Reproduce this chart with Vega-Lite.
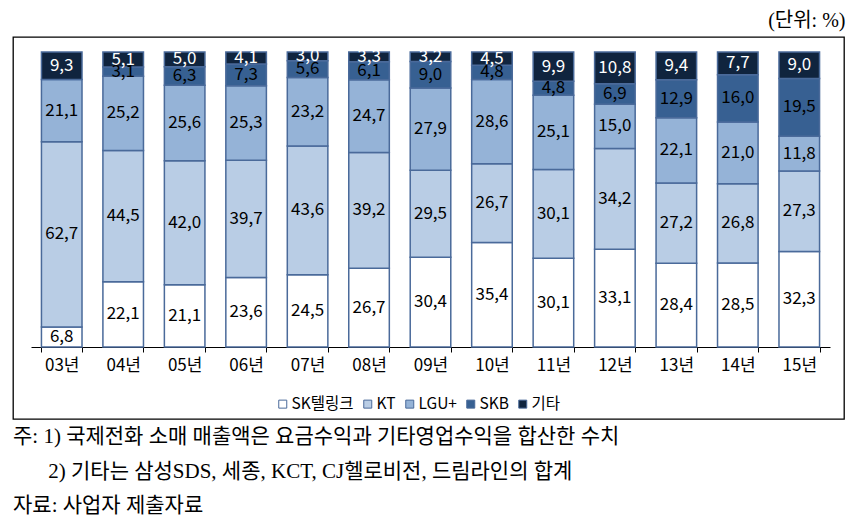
{
  "$schema": "https://vega.github.io/schema/vega-lite/v6.json",
  "width": 831,
  "height": 382,
  "autosize": {"type": "none"},
  "padding": {"left": 13, "top": 37, "right": 10, "bottom": 104},
  "background": "white",
  "config": {
    "locale": {"number": {"decimal": ",", "thousands": ".", "grouping": [3], "currency": ["", ""]}},
    "view": {"stroke": "#000", "strokeWidth": 1.3},
    "font": "Noto Sans CJK KR"
  },
  "title": {
    "text": [
      "주: 1) 국제전화 소매 매출액은 요금수익과 기타영업수익을 합산한 수치",
      "\u2800\u2800\u20052) 기타는 삼성SDS, 세종, KCT, CJ헬로비전, 드림라인의 합계",
      "자료: 사업자 제출자료"
    ],
    "orient": "bottom",
    "anchor": "start",
    "frame": "group",
    "offset": 7,
    "baseline": "top",
    "lineHeight": 34.5,
    "font": "Liberation Serif, Noto Sans CJK KR",
    "fontSize": 21,
    "fontWeight": "normal",
    "color": "#000"
  },
  "data": {
    "values": [
      {"yr": "03년", "c": "SK텔링크", "v": 6.8},
      {"yr": "03년", "c": "KT", "v": 62.7},
      {"yr": "03년", "c": "LGU+", "v": 21.1},
      {"yr": "03년", "c": "기타", "v": 9.3},
      {"yr": "04년", "c": "SK텔링크", "v": 22.1},
      {"yr": "04년", "c": "KT", "v": 44.5},
      {"yr": "04년", "c": "LGU+", "v": 25.2},
      {"yr": "04년", "c": "SKB", "v": 3.1},
      {"yr": "04년", "c": "기타", "v": 5.1},
      {"yr": "05년", "c": "SK텔링크", "v": 21.1},
      {"yr": "05년", "c": "KT", "v": 42.0},
      {"yr": "05년", "c": "LGU+", "v": 25.6},
      {"yr": "05년", "c": "SKB", "v": 6.3},
      {"yr": "05년", "c": "기타", "v": 5.0},
      {"yr": "06년", "c": "SK텔링크", "v": 23.6},
      {"yr": "06년", "c": "KT", "v": 39.7},
      {"yr": "06년", "c": "LGU+", "v": 25.3},
      {"yr": "06년", "c": "SKB", "v": 7.3},
      {"yr": "06년", "c": "기타", "v": 4.1},
      {"yr": "07년", "c": "SK텔링크", "v": 24.5},
      {"yr": "07년", "c": "KT", "v": 43.6},
      {"yr": "07년", "c": "LGU+", "v": 23.2},
      {"yr": "07년", "c": "SKB", "v": 5.6},
      {"yr": "07년", "c": "기타", "v": 3.0},
      {"yr": "08년", "c": "SK텔링크", "v": 26.7},
      {"yr": "08년", "c": "KT", "v": 39.2},
      {"yr": "08년", "c": "LGU+", "v": 24.7},
      {"yr": "08년", "c": "SKB", "v": 6.1},
      {"yr": "08년", "c": "기타", "v": 3.3},
      {"yr": "09년", "c": "SK텔링크", "v": 30.4},
      {"yr": "09년", "c": "KT", "v": 29.5},
      {"yr": "09년", "c": "LGU+", "v": 27.9},
      {"yr": "09년", "c": "SKB", "v": 9.0},
      {"yr": "09년", "c": "기타", "v": 3.2},
      {"yr": "10년", "c": "SK텔링크", "v": 35.4},
      {"yr": "10년", "c": "KT", "v": 26.7},
      {"yr": "10년", "c": "LGU+", "v": 28.6},
      {"yr": "10년", "c": "SKB", "v": 4.8},
      {"yr": "10년", "c": "기타", "v": 4.5},
      {"yr": "11년", "c": "SK텔링크", "v": 30.1},
      {"yr": "11년", "c": "KT", "v": 30.1},
      {"yr": "11년", "c": "LGU+", "v": 25.1},
      {"yr": "11년", "c": "SKB", "v": 4.8},
      {"yr": "11년", "c": "기타", "v": 9.9},
      {"yr": "12년", "c": "SK텔링크", "v": 33.1},
      {"yr": "12년", "c": "KT", "v": 34.2},
      {"yr": "12년", "c": "LGU+", "v": 15.0},
      {"yr": "12년", "c": "SKB", "v": 6.9},
      {"yr": "12년", "c": "기타", "v": 10.8},
      {"yr": "13년", "c": "SK텔링크", "v": 28.4},
      {"yr": "13년", "c": "KT", "v": 27.2},
      {"yr": "13년", "c": "LGU+", "v": 22.1},
      {"yr": "13년", "c": "SKB", "v": 12.9},
      {"yr": "13년", "c": "기타", "v": 9.4},
      {"yr": "14년", "c": "SK텔링크", "v": 28.5},
      {"yr": "14년", "c": "KT", "v": 26.8},
      {"yr": "14년", "c": "LGU+", "v": 21.0},
      {"yr": "14년", "c": "SKB", "v": 16.0},
      {"yr": "14년", "c": "기타", "v": 7.7},
      {"yr": "15년", "c": "SK텔링크", "v": 32.3},
      {"yr": "15년", "c": "KT", "v": 27.3},
      {"yr": "15년", "c": "LGU+", "v": 11.8},
      {"yr": "15년", "c": "SKB", "v": 19.5},
      {"yr": "15년", "c": "기타", "v": 9.0}
    ]
  },
  "transform": [
    {"calculate": "indexof(['SK텔링크','KT','LGU+','SKB','기타'], datum.c)", "as": "k"},
    {"stack": "v", "groupby": ["yr"], "sort": [{"field": "k", "order": "ascending"}], "as": ["y0", "y1"], "offset": "normalize"},
    {"calculate": "(datum.y0 + datum.y1) / 2", "as": "ym"}
  ],
  "layer": [
    {
      "mark": {"type": "bar", "stroke": "#4a6a9a", "strokeWidth": 1.5},
      "encoding": {
        "x": {
          "field": "yr",
          "type": "nominal",
          "scale": {"range": [18, 817], "paddingInner": 0.34, "paddingOuter": 0.17},
          "axis": {
            "orient": "bottom",
            "offset": -72,
            "title": null,
            "labelAngle": 0,
            "tickBand": "extent",
            "tickSize": 5,
            "tickColor": "#000",
            "domainColor": "#000",
            "labelFontSize": 17,
            "labelColor": "#000",
            "labelPadding": 5,
            "labelFont": "Noto Sans CJK KR"
          }
        },
        "y": {
          "field": "y0",
          "type": "quantitative",
          "scale": {"domain": [0, 1], "range": [310, 15]},
          "axis": {
            "orient": "right",
            "title": "(단위: %)",
            "labels": false,
            "ticks": false,
            "domain": false,
            "grid": false,
            "titleAngle": 0,
            "titleAlign": "right",
            "titleBaseline": "middle",
            "titleX": 1,
            "titleY": -17,
            "titleFont": "Liberation Serif, Noto Sans CJK KR",
            "titleFontSize": 20,
            "titleFontWeight": "normal",
            "titleColor": "#000"
          }
        },
        "y2": {"field": "y1"},
        "color": {
          "field": "c",
          "type": "nominal",
          "scale": {
            "domain": ["SK텔링크", "KT", "LGU+", "SKB", "기타"],
            "range": ["#ffffff", "#b9cde5", "#95b3d7", "#376092", "#10243e"]
          },
          "legend": {
            "orient": "none",
            "legendX": 262,
            "legendY": 359,
            "direction": "horizontal",
            "title": null,
            "symbolType": "square",
            "symbolSize": 64,
            "symbolStrokeColor": "#4a6a9a",
            "symbolStrokeWidth": 1,
            "labelFontSize": 15.5,
            "labelColor": "#000",
            "labelFont": "Noto Sans CJK KR",
            "columnPadding": 6,
            "labelOffset": 1
          }
        }
      }
    },
    {
      "mark": {"type": "text", "fontSize": 17, "font": "Noto Sans CJK KR", "baseline": "middle", "align": "center"},
      "encoding": {
        "x": {"field": "yr", "type": "nominal"},
        "y": {"field": "ym", "type": "quantitative"},
        "text": {"field": "v", "type": "quantitative", "format": ".1f"},
        "color": {"condition": {"test": "datum.c === '기타'", "value": "#ffffff"}, "value": "#000000"}
      }
    }
  ]
}
